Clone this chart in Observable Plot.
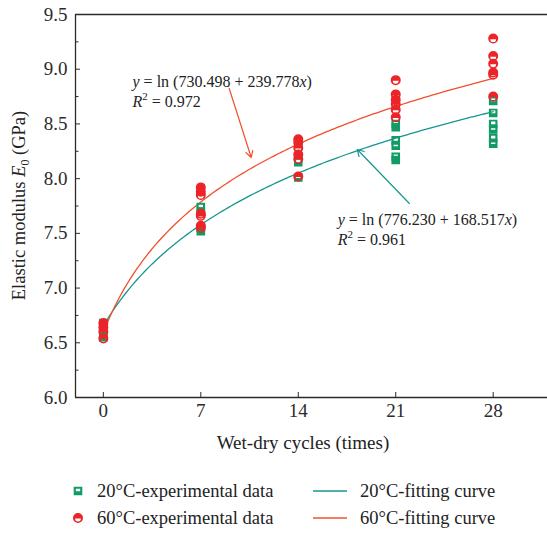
<!DOCTYPE html>
<html><head><meta charset="utf-8">
<script src="https://cdn.jsdelivr.net/npm/d3@7"></script>
<script src="https://cdn.jsdelivr.net/npm/@observablehq/plot@0.6"></script>
<style>
body{margin:0;background:#fff;}
#chart{width:547px;}
.legend{position:relative;width:547px;height:73px;font-family:"Liberation Serif",serif;font-size:18.5px;color:#222;}
.item{position:absolute;display:flex;align-items:center;height:20px;white-space:nowrap;}
</style></head><body>
<div id="chart"></div>
<div class="legend" id="legend"></div>
<script>
// ---------- data ----------
const cycles = [0, 7, 14, 21, 28];
const yTicks = [6.0, 6.5, 7.0, 7.5, 8.0, 8.5, 9.0, 9.5];
const yMinorTicks = [6.25, 6.75, 7.25, 7.75, 8.25, 8.75, 9.25];
// elastic modulus (GPa) per cycle group
const modulus20 = [
  [6.68, 6.62, 6.57, 6.55],
  [7.74, 7.70, 7.55, 7.52],
  [8.33, 8.15, 8.01],
  [8.50, 8.47, 8.35, 8.30, 8.20, 8.17],
  [8.71, 8.60, 8.50, 8.45, 8.37, 8.32]
];
const modulus60 = [
  [6.68, 6.64, 6.60, 6.54],
  [7.92, 7.88, 7.85, 7.68, 7.66, 7.57, 7.55],
  [8.36, 8.33, 8.28, 8.22, 8.18, 8.02],
  [8.90, 8.77, 8.72, 8.68, 8.63, 8.56],
  [9.28, 9.12, 9.05, 8.97, 8.95, 8.75]
];
// fitted curves y = ln(a + b x)
const fit20 = [776.230, 168.517];
const fit60 = [730.498, 239.778];
const r2Values = [0.961, 0.972];
const seriesNames = ["20°C-experimental data", "60°C-experimental data", "20°C-fitting curve", "60°C-fitting curve"];
// annotation anchors (data units): [20°C, 60°C]
const eqX = [16.87, 2.13];
const eqY1 = [7.572, 8.833];
const eqY2 = [7.389, 8.650];
const arrowX1 = [21.98, 9.04];
const arrowY1 = [7.773, 8.824];
const arrowX2 = [18.24, 10.62];
const arrowY2 = [8.266, 8.193];

// ---------- styles ----------
const GREEN = "#139b66";
const TEAL = "#16968f";
const REDLINE = "#f0502e";
const REDDOT = "#ec2428";
const AXIS = "#2b2b2b";
const FONT = '"Liberation Serif", "Times New Roman", serif';

const points20 = modulus20.flatMap((vals, i) => vals.map(v => ({x: cycles[i], y: v})));
const points60 = modulus60.flatMap((vals, i) => vals.map(v => ({x: cycles[i], y: v})));
const xs = d3.range(0, 28.001, 0.2);
const curve20 = xs.map(x => ({x, y: Math.log(fit20[0] + fit20[1] * x)}));
const curve60 = xs.map(x => ({x, y: Math.log(fit60[0] + fit60[1] * x)}));
const arrows = arrowX1.map((_, i) => ({x1: arrowX1[i], y1: arrowY1[i], x2: arrowX2[i], y2: arrowY2[i], c: i === 0 ? TEAL : REDLINE}));

const halfSquare = {draw(ctx, size) {
  const r = Math.sqrt(size / Math.PI);
  ctx.moveTo(-r, -r); ctx.lineTo(r, -r); ctx.lineTo(r, r); ctx.lineTo(-r, r); ctx.closePath();
  const a = r * 0.5, y0 = -r * 0.55, y1 = r * 0.08;
  ctx.moveTo(-a, y0); ctx.lineTo(-a, y1); ctx.lineTo(a, y1); ctx.lineTo(a, y0); ctx.closePath();
}};
const halfCircle = {draw(ctx, size) {
  const r = Math.sqrt(size / Math.PI);
  ctx.moveTo(r, 0); ctx.arc(0, 0, r, 0, 2 * Math.PI); ctx.closePath();
  const ri = r * 0.58, c = r * 0.12;
  ctx.moveTo(-ri, c); ctx.arc(0, c, ri, Math.PI, 0, true); ctx.closePath();
}};

const chart = Plot.plot({
  width: 547, height: 460,
  marginLeft: 75, marginTop: 14, marginBottom: 63, marginRight: 0,
  style: {fontFamily: FONT, fontSize: "19px", color: AXIS, background: "#fff"},
  x: {domain: [-2, 31.9]},
  y: {domain: [6, 9.5]},
  marks: [
    Plot.ruleY([6, 9.5], {stroke: AXIS, strokeWidth: 1.3}),
    Plot.ruleX([-2], {stroke: AXIS, strokeWidth: 1.3}),
    Plot.ruleX(cycles, {x: d => d, y1: 6, y2: 6, insetTop: -5, stroke: AXIS}),
    Plot.ruleY(yTicks, {y: d => d, x1: -2, x2: -2, insetRight: -5, stroke: AXIS}),
    Plot.ruleY(yMinorTicks, {y: d => d, x1: -2, x2: -2, insetRight: -3.5, stroke: AXIS}),
    Plot.axisX({ticks: cycles, tickSize: 0, tickPadding: 6, fontSize: 19, label: null}),
    Plot.axisY({ticks: yTicks, tickFormat: d => d.toFixed(1), tickSize: 0, tickPadding: 8, fontSize: 19, label: null}),
    Plot.line(curve20, {x: "x", y: "y", stroke: TEAL, strokeWidth: 1.3}),
    Plot.line(curve60, {x: "x", y: "y", stroke: REDLINE, strokeWidth: 1.3}),
    Plot.dot(points20, {x: "x", y: "y", r: 4.3, symbol: halfSquare, fill: GREEN, stroke: "none"}),
    Plot.dot(points60, {x: "x", y: "y", r: 5, symbol: halfCircle, fill: REDDOT, stroke: "none"}),
    Plot.arrow(arrows, {x1: "x1", y1: "y1", x2: "x2", y2: "y2", stroke: "c", strokeWidth: 1.2, headLength: 9})
  ]
});
document.getElementById("chart").append(chart);

// ---------- rich text annotations ----------
const sx = chart.scale("x"), sy = chart.scale("y");
const svg = d3.select(chart);
const coeffs = [fit20, fit60];
eqX.forEach((x0, i) => {
  const t1 = svg.append("text").attr("x", sx.apply(x0)).attr("y", sy.apply(eqY1[i]))
    .attr("text-anchor", "start").attr("font-family", FONT).attr("font-size", 16).attr("fill", "#222");
  t1.append("tspan").attr("font-style", "italic").text("y");
  t1.append("tspan").text(` = ln (${coeffs[i][0].toFixed(3)} + ${coeffs[i][1].toFixed(3)}`);
  t1.append("tspan").attr("font-style", "italic").text("x");
  t1.append("tspan").text(")");
  const t2 = svg.append("text").attr("x", sx.apply(x0)).attr("y", sy.apply(eqY2[i]))
    .attr("text-anchor", "start").attr("font-family", FONT).attr("font-size", 16).attr("fill", "#222");
  t2.append("tspan").attr("font-style", "italic").text("R");
  t2.append("tspan").attr("font-size", 11).attr("dy", -7).text("2");
  t2.append("tspan").attr("dy", 7).text(` = ${r2Values[i].toFixed(3)}`);
});
// axis titles
const yt = svg.append("text").attr("transform", "translate(25,205.5) rotate(-90)")
  .attr("text-anchor", "middle").attr("font-family", FONT).attr("font-size", 18.5).attr("fill", "#222");
yt.append("tspan").text("Elastic modulus ");
yt.append("tspan").attr("font-style", "italic").text("E");
yt.append("tspan").attr("font-size", 12).attr("dy", 4).text("0");
yt.append("tspan").attr("dy", -4).text(" (GPa)");
svg.append("text").attr("x", 303).attr("y", 449).attr("text-anchor", "middle")
  .attr("font-family", FONT).attr("font-size", 19).attr("fill", "#222").text("Wet-dry cycles (times)");

// ---------- legend ----------
const legend = d3.select("#legend");
function symbolPath(sym, r) { const p = d3.path(); sym.draw(p, r * r * Math.PI); return p.toString(); }
const items = [
  {left: 73, top: 21, kind: "sym", sym: halfSquare, r: 4.3, color: GREEN, label: seriesNames[0]},
  {left: 73, top: 48, kind: "sym", sym: halfCircle, r: 5, color: REDDOT, label: seriesNames[1]},
  {left: 313, top: 21, kind: "line", color: TEAL, label: seriesNames[2]},
  {left: 313, top: 48, kind: "line", color: REDLINE, label: seriesNames[3]}
];
items.forEach(it => {
  const div = legend.append("div").attr("class", "item").style("left", it.left + "px").style("top", it.top + "px");
  if (it.kind === "sym") {
    const s = div.append("svg").attr("width", 10).attr("height", 20).style("margin-right", "14px");
    s.append("path").attr("transform", "translate(5,10)").attr("d", symbolPath(it.sym, it.r)).attr("fill", it.color);
  } else {
    const s = div.append("svg").attr("width", 34).attr("height", 20).style("margin-right", "13px");
    s.append("line").attr("x1", 0).attr("x2", 34).attr("y1", 10).attr("y2", 10).attr("stroke", it.color).attr("stroke-width", 1.3);
  }
  div.append("span").text(it.label);
});
</script>
</body></html>
